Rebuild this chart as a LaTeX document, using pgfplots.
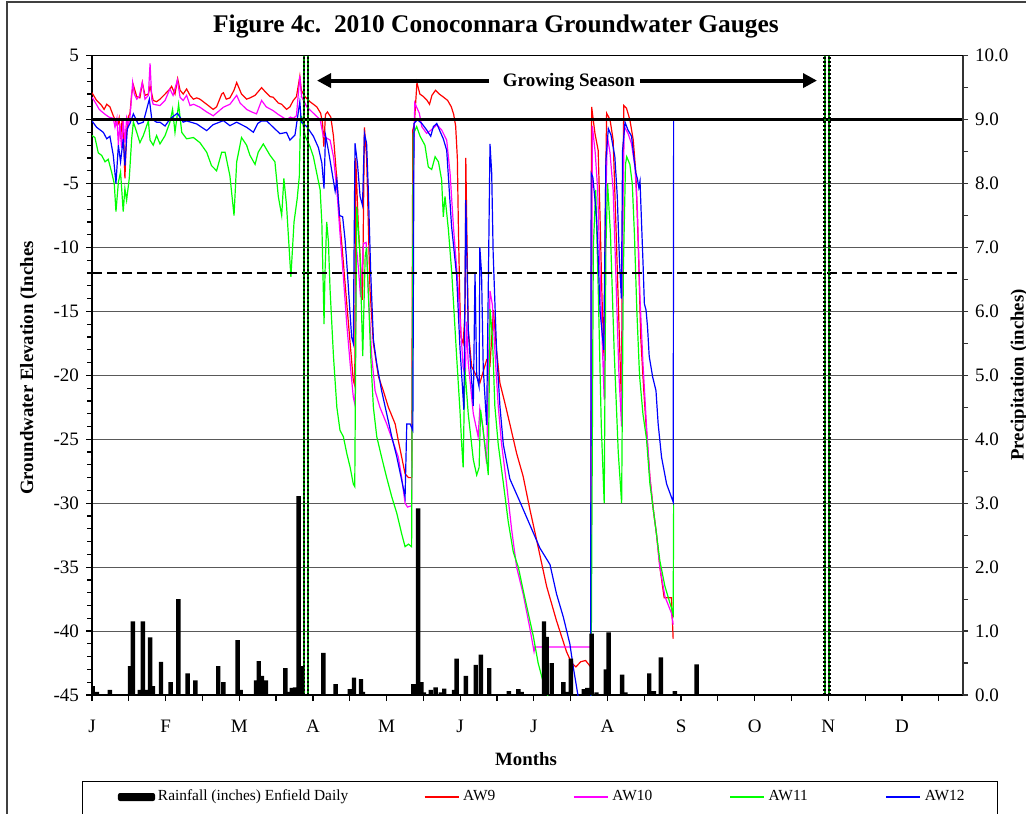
\documentclass[border=0pt]{standalone}
\usepackage{fontspec}
\setmainfont{Liberation Serif}
\usepackage{pgfplots}
\pgfplotsset{compat=1.18}
\usetikzlibrary{arrows.meta}
\definecolor{cRed}{RGB}{255,0,0}
\definecolor{cMag}{RGB}{255,0,255}
\definecolor{cGrn}{RGB}{0,255,0}
\definecolor{cBlu}{RGB}{0,0,255}
\definecolor{cDkGrn}{RGB}{0,150,0}

\begin{document}
\begin{tikzpicture}
\useasboundingbox (0,0) rectangle (513pt,406.5pt);
\draw[black!75, line width=1pt] (3.5pt,-20pt) rectangle (540pt,405.5pt);

\begin{axis}[
  at={(46pt,59pt)}, anchor=south west, scale only axis,
  width=435.5pt, height=319.65pt,
  xmin=0, xmax=360, ymin=-45, ymax=5,
  xtick={0,15.22,30.43,45.65,60.87,76.08,91.3,106.52,121.73,136.95,152.17,167.38,182.6,197.81,213.03,228.25,243.46,258.68,273.9,289.11,304.33,319.55,334.76,349.98},
  xticklabels={J,{},F,{},M,{},A,{},M,{},J,{},J,{},A,{},S,{},O,{},N,{},D,{}},
  ytick={-45,-40,...,5}, minor y tick num=4,
  xtick pos=left, ytick pos=left,
  ymajorgrids, major grid style={black!65, line width=0.5pt},
  axis line style={black, line width=0.7pt},
  tick align=outside, major tick length=3pt, minor tick length=2.5pt,
  tick style={black, line width=0.6pt},
  tick label style={font=\fontsize{9.5}{11}\selectfont},
  xticklabel style={yshift=-6pt},
  /pgf/number format/assume math mode=true,
  clip=true,
  every axis plot/.append style={line width=0.6pt},
]
% AW9
\addplot[cRed] coordinates {(0,2.1) (1.9,1.5) (3,1.3) (4,1.1) (5,0.8) (6.1,1.2) (7.4,1.0) (8.8,0.3) (9.5,0.0) (10.5,-0.5) (11.2,0.1) (11.8,-1.5) (12.5,0.1) (13.2,-2.0) (13.6,-4.6) (14.3,-1.0) (15,0.2) (15.7,0.5) (16.4,2.0) (17.1,2.7) (18.5,1.8) (19.8,1.7) (20.8,2.9) (21.9,1.9) (23.3,2.0) (24,2.6) (25.3,1.5) (26.7,1.4) (28.1,1.6) (30.2,2.0) (32.2,2.4) (32.9,2.6) (34.3,2.0) (35.4,3.2) (36.4,2.3) (37.7,2.0) (39.1,2.4) (40.5,1.9) (41.9,1.6) (43.3,1.7) (44.6,1.6) (47.4,1.2) (49.4,0.9) (50.1,0.8) (51.5,1.0) (53.6,2.0) (54.3,2.1) (55.5,1.6) (57,1.7) (58.7,2.3) (59.8,2.9) (61.8,2.0) (63.9,1.6) (65.3,1.7) (67.4,1.9) (70.1,2.5) (71.5,2.2) (73.6,1.8) (74.9,1.75) (77,1.3) (78.4,1.2) (80.4,0.8) (81.8,1.0) (83.2,1.5) (84.5,1.8) (85.9,3.4) (86.5,2.3) (88,1.8) (90.1,1.4) (92.9,1.0) (94.5,0.5) (95.3,-0.3) (95.8,-2.1) (96.5,0.4) (97.3,0.6) (98.7,0.2) (99.8,-1.3) (101.2,-4.7) (102.5,-8.1) (103.9,-11.2) (105.3,-14.4) (106.7,-17.5) (108,-20.4) (108.6,-20.8) (109,-3.0) (110,-8) (111.8,-14.1) (112.6,-0.6) (113.5,-3.0) (114.9,-13.3) (116.3,-17.5) (118.4,-20.1) (120.4,-21.2) (122.5,-22.5) (125.3,-23.8) (126.6,-25.1) (128,-26.4) (129.4,-27.7) (130.8,-28) (132.1,-28) (132.6,-0.8) (133.2,-0.4) (134.3,2.9) (135.5,2.0) (137,1.8) (138.5,1.5) (139.5,1.2) (140.5,1.9) (142,2.3) (143.5,2.0) (145,1.8) (147,1.5) (148.5,1.0) (149.5,0.4) (150.3,-0.5) (151,-3) (151.4,-8) (152,-14) (152.5,-17) (153.4,-17.5) (154.2,-15) (154.5,-3) (155.5,-16.4) (156.9,-19.3) (159,-20.1) (160.3,-20.6) (163.1,-18.8) (164.5,-19.2) (165.9,-14.9) (167.2,-18) (168.6,-20.6) (170.7,-22.2) (172.7,-23.8) (175.5,-26.1) (178.2,-27.9) (181,-30.5) (183.8,-32.9) (187.9,-36.5) (192,-39.2) (196.1,-41.6) (198.2,-42.5) (200,-42.8) (202,-42.4) (204,-42.3) (206.1,-42.8) (206.5,1.0) (207.9,-1.1) (209.2,-2.4) (209.9,-7) (210.8,-14) (211.6,-18.5) (212.3,-5) (212.7,0.5) (214.1,0) (215.4,-1.6) (216.5,-8) (217.8,-16) (218.8,-22) (219.4,-5) (219.8,1.1) (220.9,0.9) (222.3,0) (223.7,-1.6) (224.8,-4.2) (225.8,-10) (226.8,-17) (228,-21) (229.2,-24.5) (230.6,-28) (232,-30.5) (233.3,-32.4) (234.7,-35) (236.5,-37.4) (239.5,-37.4) (240.2,-40.6)};
% AW10
\addplot[cMag] coordinates {(0,1.75) (1.5,1.3) (3,0.8) (4.2,0.6) (5.5,0.4) (7,0.2) (8.8,0.1) (9.5,-0.6) (10.3,0.1) (10.9,-2.0) (11.5,-0.3) (12.2,-2.2) (12.9,0.0) (13.6,-1.8) (14.3,0.1) (15,-0.5) (15.7,0.2) (16.8,2.9) (17.5,2.0) (18.5,1.6) (19.5,1.8) (20.8,2.9) (21.9,1.6) (23.3,1.9) (24,4.4) (24.7,1.6) (25.3,1.2) (28.1,1.1) (30.2,1.5) (32.2,2.4) (33.5,1.9) (35.3,3.1) (36.4,1.75) (37.7,1.5) (39.1,1.9) (40.5,1.1) (42,1.2) (44.6,0.97) (47.4,0.6) (50.1,0.3) (52,0.6) (54.3,0.97) (57,1.2) (59.8,1.9) (61.2,1.3) (63.9,0.8) (66,0.6) (68,0.45) (70.1,1.5) (72,1.0) (74.9,0.7) (77,0.4) (80.4,0.0) (82,0.2) (83.2,0.1) (84.5,0.3) (85.9,3.4) (86.6,1.8) (88.8,1.0) (91.5,0.5) (94.3,0.0) (95.6,-1.3) (96.6,-1.4) (98.4,-1.6) (99.8,-2.9) (101.2,-5.5) (102.5,-8.9) (103.9,-12.3) (105.3,-16) (106.7,-19.1) (108,-21.7) (108.7,-22.3) (109.3,-10) (110.1,-11.6) (111,-13.9) (112.2,-9.7) (113.3,-9.6) (114.2,-13.5) (115.6,-18.5) (117,-21.2) (119,-22.5) (121.8,-23.8) (124.6,-25.3) (126.6,-26.4) (128,-28) (129.4,-30) (130.4,-30.3) (132.1,-30.2) (132.8,-5) (133.4,1.3) (135.3,0.5) (136.3,-0.55) (138.3,-1.07) (140.3,-0.8) (142.5,-0.4) (144.5,-0.8) (146.6,-1.6) (148,-4.2) (149.4,-8.4) (151.4,-13.3) (153.4,-19.4) (154.3,-20) (154.8,-15.8) (155.5,-19) (157.6,-23) (159.6,-24.8) (160.3,-22.6) (161.5,-24) (163.1,-26.9) (164.5,-13.4) (165.5,-14.5) (166.8,-19) (167.9,-22.4) (169.3,-25.4) (171.3,-28.4) (173.4,-32) (175.5,-35) (178.2,-37.1) (181,-39.8) (182.7,-41.6) (183,-41.25) (206.1,-41.25) (206.8,-0.5) (208,-2.6) (209,-5.5) (210,-12) (211,-18) (211.7,-21.9) (212.4,-6) (213,-1.3) (214.1,-2.6) (215.4,-5.5) (216.5,-12) (217.8,-20) (218.9,-24) (219.5,-6) (220,-0.55) (221.6,-1.1) (223,-1.9) (224.4,-3.7) (225.4,-7) (226.5,-14) (227.7,-19) (229.2,-24) (230.6,-28) (232,-30.5) (233.3,-32.4) (234.7,-35) (236.8,-37.3) (239.5,-38.6) (240.2,-39.5)};
% AW11
\addplot[cGrn] coordinates {(0,-1.25) (1.2,-1.4) (2.6,-2.6) (4,-2.8) (5.4,-3.3) (6.7,-3.1) (8.1,-4.1) (9.2,-5) (9.9,-7.2) (10.9,-4.9) (11.8,-4.1) (12.9,-7.2) (13.6,-5.4) (14.3,-6.3) (15.4,-4.6) (16.4,-1.5) (17.1,-0.2) (18.5,-1.0) (19.8,-1.8) (21.2,-1.25) (23.3,-0.1) (24,-1.6) (25.3,-2.0) (26.7,-1.25) (28.1,-1.9) (30.2,-1.25) (32.2,-0.2) (33.3,0.8) (34.3,-1.0) (35.8,1.2) (37.1,-1.0) (39.1,-1.5) (41.9,-1.4) (44.6,-1.8) (47.4,-2.55) (49.4,-3.6) (51.5,-4.0) (53.6,-2.55) (55,-2.55) (57,-4.4) (58.7,-7.5) (59.8,-3.3) (61.8,-1.4) (63.9,-2.0) (65.3,-2.8) (67.4,-3.5) (68.7,-2.55) (70.8,-1.9) (73.6,-2.8) (75.6,-3.3) (77,-6.0) (78.4,-7.5) (79.3,-4.6) (80.4,-6.7) (82.2,-12.3) (83.5,-8) (84.8,-6.2) (85.7,-4.4) (86.2,0.3) (86.7,0.2) (88.1,-1.3) (90.1,-2.1) (91.5,-2.9) (92.9,-4.2) (94.3,-5.5) (95,-8.1) (95.6,-13.3) (95.9,-16) (96.3,-12) (97,-8) (97.7,-9.5) (98.4,-13.3) (99.8,-18.5) (101.2,-22.5) (102.5,-24.3) (103.9,-24.8) (105.3,-26.1) (106.7,-27.2) (108,-28.5) (108.6,-28.7) (109.4,-6.8) (110.8,-10.7) (111.9,-18.5) (112.9,-10.7) (113.5,-10) (114.2,-13.5) (115.2,-18.5) (116.3,-22.5) (117.7,-24.8) (119.7,-26.4) (121.8,-28) (123.9,-29.5) (126,-30.8) (128,-32.4) (129.4,-33.4) (130.8,-33.2) (132.1,-33.4) (132.8,-1.1) (134.2,-0.55) (135.6,-1.3) (137.6,-2.0) (139,-3.7) (140.4,-3.9) (141.8,-2.9) (143.2,-3.3) (144.5,-4.7) (145.2,-7.6) (145.9,-6) (147.3,-8.6) (148.7,-12) (150.7,-18.5) (152.1,-22.8) (152.8,-25.4) (153.4,-27.2) (154.1,-19.4) (155.5,-23) (157.6,-26.6) (159,-27.8) (160,-27.2) (160.6,-22.7) (161.5,-24) (163.1,-26.6) (163.8,-27.8) (164.5,-14.8) (165.5,-17) (166.5,-22.4) (167.9,-25.4) (170,-28.4) (172,-31.4) (174.1,-33.8) (176.2,-35) (178.2,-36.8) (180.3,-38.6) (182.4,-40.4) (184.4,-42.5) (186.5,-44) (188.6,-45.2) (190,-47) (206.2,-47) (207.2,-10) (208.2,-5.5) (209.2,-13) (210.5,-24) (211.7,-30) (212.4,-10) (213.1,-5) (214.3,-9) (215.8,-18) (217.5,-26) (218.9,-30) (219.6,-12) (220.5,-3.5) (221,-2.9) (222.3,-3.5) (223.3,-5) (224.2,-9) (225.2,-15) (226.3,-20) (227.7,-23) (229.2,-25) (230.6,-28.5) (232,-30.5) (233.3,-32.4) (234.7,-34.5) (236.8,-36.5) (239.5,-38.2) (240.2,-38.7) (240.4,-30)};
% AW12
\addplot[cBlu] coordinates {(0,-0.1) (1.9,-0.6) (3.3,-0.8) (4.7,-1.0) (6.1,-1.5) (7.4,-1.3) (8.8,-2.8) (9.9,-5.0) (10.9,-2.0) (11.8,-3.3) (12.9,-1.5) (13.6,-3.6) (14.6,-0.7) (15.7,-0.3) (17.1,0.45) (19.1,-0.34) (21.2,-0.2) (23.7,1.6) (24.7,0.05) (26.7,-0.2) (28.1,-0.2) (30.2,-0.5) (32.2,0.05) (35.3,0.5) (37.7,-0.2) (39.1,-0.1) (43.3,-0.34) (47.4,-0.86) (50,-0.4) (54.3,-0.08) (57,-0.47) (59.8,-0.2) (63.9,-0.6) (66.7,-0.99) (68.5,-0.3) (70.1,-0.1) (72.2,-0.1) (74.9,-0.6) (77.7,-1.1) (80.4,-1.0) (81.8,-1.6) (83.9,-1.2) (85.9,1.4) (86.5,-0.2) (88.8,-0.55) (91.5,-1.3) (93.6,-2.2) (95,-3.4) (95.9,-5.4) (96.5,-1.2) (97.7,-2.4) (99.1,-4) (100.5,-5.6) (101.2,-4.7) (102.3,-7.5) (103.6,-7.6) (104.6,-9.4) (105.3,-11.2) (106.4,-14.4) (107.3,-17) (108,-17.5) (108.7,-1.85) (109.7,-3.4) (110.8,-6) (111.8,-6.7) (112.6,-1.1) (113.5,-1.85) (114.2,-5.5) (115.2,-12) (116.3,-17.2) (117.7,-19.1) (119.7,-21.2) (121.8,-23) (123.9,-24.8) (126,-26.4) (128,-28.2) (129.4,-29.5) (130.1,-23.8) (131.5,-23.8) (132.6,-24.3) (133.1,-0.3) (134.5,0.0) (136.3,-0.3) (138.3,-0.8) (140,-1.3) (141.1,-0.55) (142.5,-0.3) (143.8,-0.9) (145.2,-1.5) (146.6,-2.4) (148.6,-8.3) (150.7,-12.2) (152.1,-17.9) (153.7,-22.7) (154.5,-6.3) (155.5,-16.4) (157.6,-22.4) (158.3,-12) (159,-20) (160,-20.9) (160.3,-10) (161,-12) (161.7,-19.4) (163.1,-23.9) (164.5,-1.9) (165.2,-4.2) (165.8,-10.4) (167.2,-18) (168.6,-22.4) (170,-25.4) (172.7,-28.1) (176.9,-29.9) (181,-31.7) (185.1,-33.5) (189.3,-34.8) (192,-37.1) (194.8,-38.9) (197.5,-41) (198.9,-42.8) (201,-45.2) (202,-47) (206.1,-47) (206.3,-4.2) (207,-4.5) (207.9,-6.3) (208.6,-7.9) (209.2,-10.7) (210,-15) (211.5,-18) (212.4,-3.2) (213.4,-0.7) (214.5,-1.2) (216.1,-2.9) (217.1,-6) (218,-11) (218.8,-14) (219.3,-2.4) (220.3,-0.2) (221.5,-0.8) (223,-1.3) (224,-3) (224.8,-4.2) (225.4,-4.6) (226,-5.3) (226.5,-4.8) (227.1,-7.9) (227.8,-11.5) (228.3,-14.4) (229,-14.9) (229.6,-16.2) (230.3,-18.5) (231.7,-20.1) (233.1,-21.2) (234,-23.8) (235.4,-26.4) (237.5,-28.5) (240.2,-29.9) (240.4,0)};
% reference lines
\addplot[black, line width=1.5pt] coordinates {(0,0) (360,0)};
\addplot[black, line width=1pt, dash pattern=on 5pt off 2.5pt] coordinates {(0,-12) (360,-12)};
% growing season boundaries
\addplot[cDkGrn, line width=1pt] coordinates {(87.6,-45) (87.6,5)};
\addplot[black, line width=1.4pt, dash pattern=on 1pt off 1pt] coordinates {(87.6,-45) (87.6,5)};
\addplot[cDkGrn, line width=1pt] coordinates {(89.3,-45) (89.3,5)};
\addplot[black, line width=1.4pt, dash pattern=on 1pt off 1pt] coordinates {(89.3,-45) (89.3,5)};
\addplot[cDkGrn, line width=1pt] coordinates {(302.9,-45) (302.9,5)};
\addplot[black, line width=1.4pt, dash pattern=on 1pt off 1pt] coordinates {(302.9,-45) (302.9,5)};
\addplot[cDkGrn, line width=1pt] coordinates {(304.7,-45) (304.7,5)};
\addplot[black, line width=1.4pt, dash pattern=on 1pt off 1pt] coordinates {(304.7,-45) (304.7,5)};
\end{axis}

\begin{axis}[
  at={(46pt,59pt)}, anchor=south west, scale only axis,
  width=435.5pt, height=319.65pt,
  xmin=0, xmax=360, ymin=0, ymax=10,
  axis x line=none, axis y line*=right,
  ytick={0,1,...,10}, minor y tick num=1,
  axis line style={black!80, line width=0.7pt},
  tick align=outside, major tick length=2.5pt, minor tick length=2.5pt,
  tick style={black!80, line width=0.6pt},
  tick label style={font=\fontsize{9.5}{11}\selectfont},
  yticklabel style={/pgf/number format/.cd, fixed, fixed zerofill, precision=1},
  /pgf/number format/assume math mode=true,
  legend columns=5,
  legend style={at={(axis description cs:0.02985,-0.1596)}, anchor=west,
    draw=none, fill=none, inner sep=0pt, outer sep=0pt,
    /tikz/column sep=0pt, nodes={inner sep=0pt, font=\fontsize{7.7}{9}\selectfont}},
  legend cell align=left,
]
\addplot[ybar, bar width=2.2pt, bar shift=0pt, fill=black, draw=none,
  legend image code/.code={\fill[black, rounded corners=1pt] (0pt,-2pt) rectangle (18.5pt,2pt);}]
  coordinates {(0.3,0.14) (2,0.05) (7.4,0.08) (15.7,0.45) (16.9,1.15) (19.8,0.08) (21,1.15) (22.2,0.08) (24,0.9) (25.2,0.14) (28.5,0.52) (32.5,0.2) (35.7,1.5) (39.5,0.34) (42.7,0.23) (52.2,0.45) (54.3,0.2) (60.2,0.86) (61.4,0.08) (67.8,0.23) (68.9,0.53) (70.2,0.3) (71.9,0.23) (79.9,0.42) (80.9,0.05) (82.6,0.11) (83.9,0.12) (85.4,3.11) (86.7,0.45) (95.6,0.66) (100.7,0.17) (106.6,0.09) (108.3,0.27) (111.2,0.25) (112,0.05) (132.8,0.17) (134.8,2.92) (136.2,0.2) (137.2,0.04) (140,0.08) (142,0.12) (144.2,0.04) (145.6,0.1) (149.6,0.08) (150.7,0.57) (154.5,0.3) (158.6,0.47) (160.7,0.63) (164.2,0.42) (172.3,0.06) (176.2,0.09) (177.6,0.05) (186.8,1.15) (187.9,0.91) (190,0.5) (194.8,0.2) (196.2,0.05) (197.9,0.57) (203.3,0.09) (204.7,0.11) (206.5,0.96) (208.5,0.04) (212.4,0.4) (213.5,0.98) (219.1,0.32) (220.5,0.04) (230.3,0.34) (232.2,0.06) (235.1,0.59) (240.9,0.06) (249.9,0.48)};
\addlegendentry{\makebox[134.5pt][l]{\hspace{1.5pt}Rainfall (inches) Enfield Daily}}
\addlegendimage{legend image code/.code={\draw[cRed, line width=0.6pt] (0pt,0pt) -- (17pt,0pt);}}
\addlegendentry{\makebox[57pt][l]{\hspace{2pt}AW9}}
\addlegendimage{legend image code/.code={\draw[cMag, line width=0.6pt] (0pt,0pt) -- (17pt,0pt);}}
\addlegendentry{\makebox[60.5pt][l]{\hspace{2pt}AW10}}
\addlegendimage{legend image code/.code={\draw[cGrn, line width=0.6pt] (0pt,0pt) -- (17pt,0pt);}}
\addlegendentry{\makebox[60.5pt][l]{\hspace{2pt}AW11}}
\addlegendimage{legend image code/.code={\draw[cBlu, line width=0.6pt] (0pt,0pt) -- (17pt,0pt);}}
\addlegendentry{\makebox[20pt][l]{\hspace{2pt}AW12}}
\end{axis}

% titles and annotations
\node[anchor=base, font=\bfseries\fontsize{12.7}{14}\selectfont] at (248pt,390pt) {Figure 4c.\ \ 2010 Conoconnara Groundwater Gauges};
\node[rotate=90, font=\bfseries\fontsize{9.4}{11}\selectfont] at (14.25pt,222.5pt) {Groundwater Elevation (Inches};
\node[rotate=90, font=\bfseries\fontsize{9.4}{11}\selectfont] at (509.5pt,219pt) {Precipitation (inches)};
\node[anchor=base, font=\bfseries\fontsize{9.4}{11}\selectfont] at (263pt,24pt) {Months};
\node[font=\bfseries\fontsize{9.5}{11}\selectfont] at (284.5pt,365.5pt) {Growing Season};
\draw[line width=2pt, -{Triangle[length=7pt,width=7pt]}] (244.5pt,366.2pt) -- (158.5pt,366.2pt);
\draw[line width=2pt, -{Triangle[length=7pt,width=7pt]}] (320pt,366.2pt) -- (408.5pt,366.2pt);
\draw[black, line width=0.5pt] (41pt,16pt) rectangle (498.5pt,-20pt);
\end{tikzpicture}
\end{document}
